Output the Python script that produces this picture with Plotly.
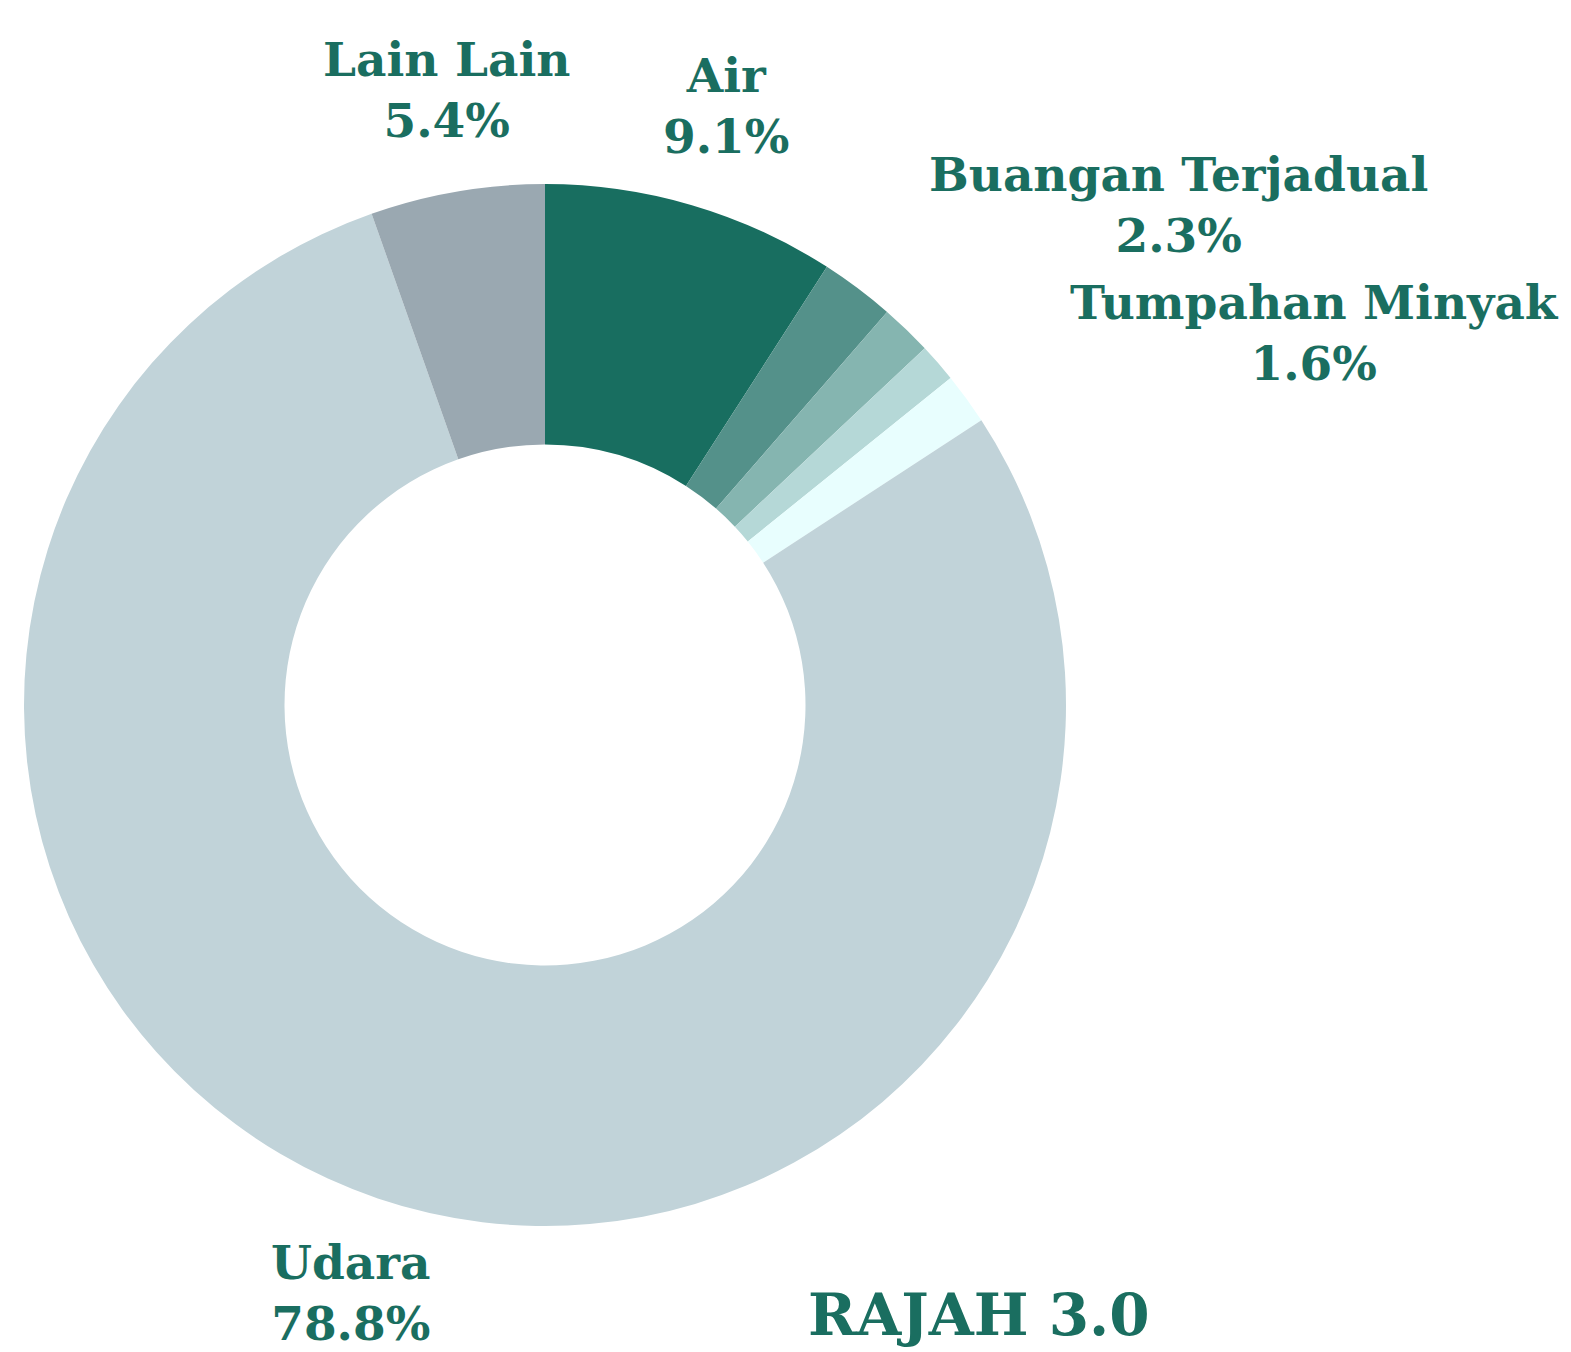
import plotly.graph_objects as go

labels = ["Air", "Buangan Terjadual", "Tumpahan Minyak", "Kategori 4", "Kategori 5", "Udara", "Lain Lain"]
values = [9.1, 2.3, 1.6, 1.2, 1.6, 78.8, 5.4]
colors = ["#186e60", "#54918a", "#85b5b0", "#b5d8d7", "#e8fefe", "#c1d3d9", "#9aa8b1"]
shown = [True, True, True, False, False, True, True]

W, H = 1571, 1352
TEXT_COLOR = "#1a6e60"
FONT = "DejaVu Serif"

# label anchor centres (pixels from top-left)
label_pos = {
    "Air": (718, 98),
    "Buangan Terjadual": (1170, 197),
    "Tumpahan Minyak": (1306, 325),
    "Udara": (343, 1285),
    "Lain Lain": (438, 82),
}

fig = go.Figure(go.Pie(
    labels=labels,
    values=values,
    hole=0.5,
    sort=False,
    direction="clockwise",
    rotation=0,
    marker=dict(colors=colors, line=dict(width=0)),
    textinfo="none",
    showlegend=False,
    domain=dict(x=[16 / W, 1058 / W], y=[134 / H, 1176 / H]),
))

annotations = []
for lab, val, sh in zip(labels, values, shown):
    if not sh:
        continue
    px, py = label_pos[lab]
    annotations.append(dict(
        x=px / W, y=1 - py / H, xref="paper", yref="paper",
        xanchor="center", yanchor="middle", showarrow=False,
        text=f"<b>{lab}<br>{val}%</b>",
        font=dict(family=FONT, size=47, color=TEXT_COLOR),
        align="center",
    ))
annotations.append(dict(
    x=971 / W, y=1 - 1307 / H, xref="paper", yref="paper",
    xanchor="center", yanchor="middle", showarrow=False,
    text="<b>RAJAH 3.0</b>",
    font=dict(family=FONT, size=58, color=TEXT_COLOR),
))

fig.update_layout(
    width=W, height=H,
    margin=dict(l=0, r=0, t=0, b=0),
    paper_bgcolor="white", plot_bgcolor="white",
    annotations=annotations,
)

fig.write_html("out.html")
